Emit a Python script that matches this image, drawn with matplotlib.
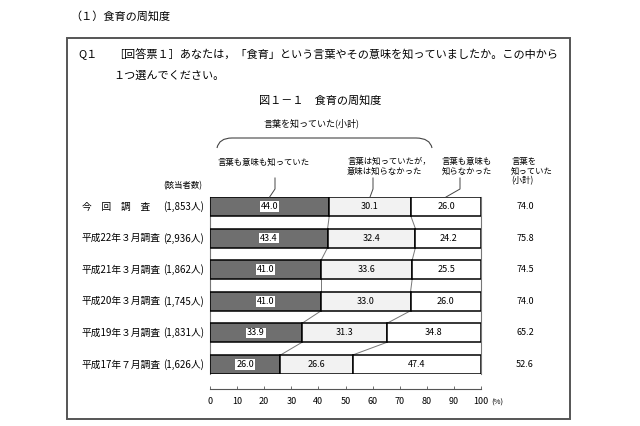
import matplotlib
matplotlib.use("Agg")
import matplotlib.pyplot as plt
from matplotlib.patches import Rectangle, PathPatch
from matplotlib.path import Path
import numpy as np

plt.rcParams['font.family'] = ['Noto Sans CJK JP', 'DejaVu Sans']

surveys = ["今　回　調　査", "平成22年３月調査", "平成21年３月調査",
           "平成20年３月調査", "平成19年３月調査", "平成17年７月調査"]
counts = ["(1,853人)", "(2,936人)", "(1,862人)", "(1,745人)", "(1,831人)", "(1,626人)"]
knew_both = [44.0, 43.4, 41.0, 41.0, 33.9, 26.0]
knew_word_only = [30.1, 32.4, 33.6, 33.0, 31.3, 26.6]
knew_neither = [26.0, 24.2, 25.5, 26.0, 34.8, 47.4]
subtotal = [74.0, 75.8, 74.5, 74.0, 65.2, 52.6]
xticks = [0, 10, 20, 30, 40, 50, 60, 70, 80, 90, 100]

W, H = 640, 426
fig = plt.figure(figsize=(W / 100, H / 100), dpi=100)

def fx(x):
    return x / W

def fy(y):
    return 1 - y / H

def ftext(x, y, s, **kw):
    fig.text(fx(x), fy(y), s, **kw)

# Section title and box
ftext(70, 16, "（１）食育の周知度", fontsize=8, va='center', ha='left')
fig.patches.append(Rectangle((fx(67), fy(419)), fx(570) - fx(67), fy(38) - fy(419),
                             transform=fig.transFigure, fill=False,
                             edgecolor='#555555', lw=1.4))
ftext(78, 55, "Q１", fontsize=8, va='center', ha='left')
ftext(113, 55, "［回答票１］あなたは，「食育」という言葉やその意味を知っていましたか。この中から",
      fontsize=8, va='center', ha='left')
ftext(113, 76, "１つ選んでください。", fontsize=8, va='center', ha='left')
ftext(320, 100, "図１－１　食育の周知度", fontsize=8, va='center', ha='center')

# Axes
ax_left, ax_right = 210, 481
ax_top, ax_bot = 197, 374
ax = fig.add_axes([fx(ax_left), fy(ax_bot), fx(ax_right) - fx(ax_left), fy(ax_top) - fy(ax_bot)])
n = len(surveys)
ypos = np.arange(n)
bh = 0.6
b1 = np.array(knew_both)
b2 = np.array(knew_word_only)
b3 = np.array(knew_neither)
ax.barh(ypos, b1, height=bh, color='#6f6f6f', edgecolor='black', lw=1.1, zorder=3)
ax.barh(ypos, b2, left=b1, height=bh, color='#f2f2f2', edgecolor='black', lw=1.1, zorder=3)
ax.barh(ypos, b3, left=b1 + b2, height=bh, color='white', edgecolor='black', lw=1.1, zorder=3)
ax.set_xlim(0, 100)
ax.set_ylim(n - 1 + bh / 2, -bh / 2)

# connecting lines
for i in range(n - 1):
    for cum in (b1, b1 + b2):
        ax.plot([cum[i], cum[i + 1]], [i + bh / 2, i + 1 - bh / 2], color='#777777', lw=0.7, zorder=2)

# value labels
for i in range(n):
    ax.text(b1[i] / 2, i, f"{b1[i]:.1f}", ha='center', va='center', fontsize=6.5, zorder=4,
            bbox=dict(boxstyle='square,pad=0.1', fc='white', ec='none'))
    ax.text(b1[i] + b2[i] / 2, i, f"{b2[i]:.1f}", ha='center', va='center', fontsize=6.5, zorder=4)
    ax.text(b1[i] + b2[i] + b3[i] / 2, i, f"{b3[i]:.1f}", ha='center', va='center', fontsize=6.5, zorder=4)

ax.spines['top'].set_visible(False)
ax.spines['left'].set_color('#777777')
ax.spines['right'].set_color('#777777')
ax.spines['left'].set_linewidth(0.8)
ax.spines['right'].set_linewidth(0.8)
ax.spines['bottom'].set_position(('outward', 10.8))
ax.spines['bottom'].set_color('#555555')
ax.spines['bottom'].set_linewidth(0.8)
ax.set_yticks([])
ax.set_xticks(xticks)
ax.set_xticklabels([str(t) for t in xticks], fontsize=6.5)
ax.tick_params(axis='x', direction='in', length=2.5, width=0.6, pad=6, color='#555555')
ax.patch.set_alpha(0)

# percent sign
ftext(497, 403, "(%)", fontsize=5.5, va='center', ha='center')

# row labels, counts and subtotals
for i in range(n):
    yc = ax_top + (ax_bot - ax_top) * (i + bh / 2) / (n - 1 + bh)
    ftext(82, yc, surveys[i], fontsize=7, va='center', ha='left')
    ftext(163, yc, counts[i], fontsize=7, va='center', ha='left')
    ftext(525, yc, f"{subtotal[i]:.1f}", fontsize=6.5, va='center', ha='center')

ftext(183, 186, "(該当者数)", fontsize=6, va='center', ha='center')

# header labels
ftext(218, 162, "言葉も意味も知っていた", fontsize=6, va='center', ha='left')
ftext(347, 166, "言葉は知っていたが，\n意味は知らなかった", fontsize=6, va='center',
      ha='left', linespacing=1.1)
ftext(442, 166, "言葉も意味も\n知らなかった", fontsize=6, va='center', ha='left', linespacing=1.1)
ftext(511, 171, "言葉を\n知っていた\n(小計)", fontsize=6, va='center', ha='left', linespacing=1.1)
ftext(312, 123, "言葉を知っていた(小計)", fontsize=6.5, va='center', ha='center')

# bracket
verts = [(fx(217), fy(148)), (fx(219), fy(138)), (fx(232), fy(138)),
         (fx(416), fy(138)), (fx(430), fy(138)), (fx(432), fy(148))]
codes = [Path.MOVETO, Path.CURVE3, Path.CURVE3, Path.LINETO, Path.CURVE3, Path.CURVE3]
fig.patches.append(PathPatch(Path(verts, codes), transform=fig.transFigure,
                             fill=False, edgecolor='#444444', lw=0.8))

# leader lines to top bar
def data_x_to_px(v):
    return ax_left + (ax_right - ax_left) * v / 100

leaders = [(275, b1[0] / 2), (373, b1[0] + b2[0] / 2), (460, b1[0] + b2[0] + b3[0] / 2)]
for lx, target in leaders:
    tx = data_x_to_px(target)
    fig.lines.append(plt.Line2D([fx(lx), fx(lx), fx(tx)], [fy(178), fy(189), fy(ax_top)],
                                transform=fig.transFigure, color='#444444', lw=0.7))

fig.savefig("out.png", dpi=100)
